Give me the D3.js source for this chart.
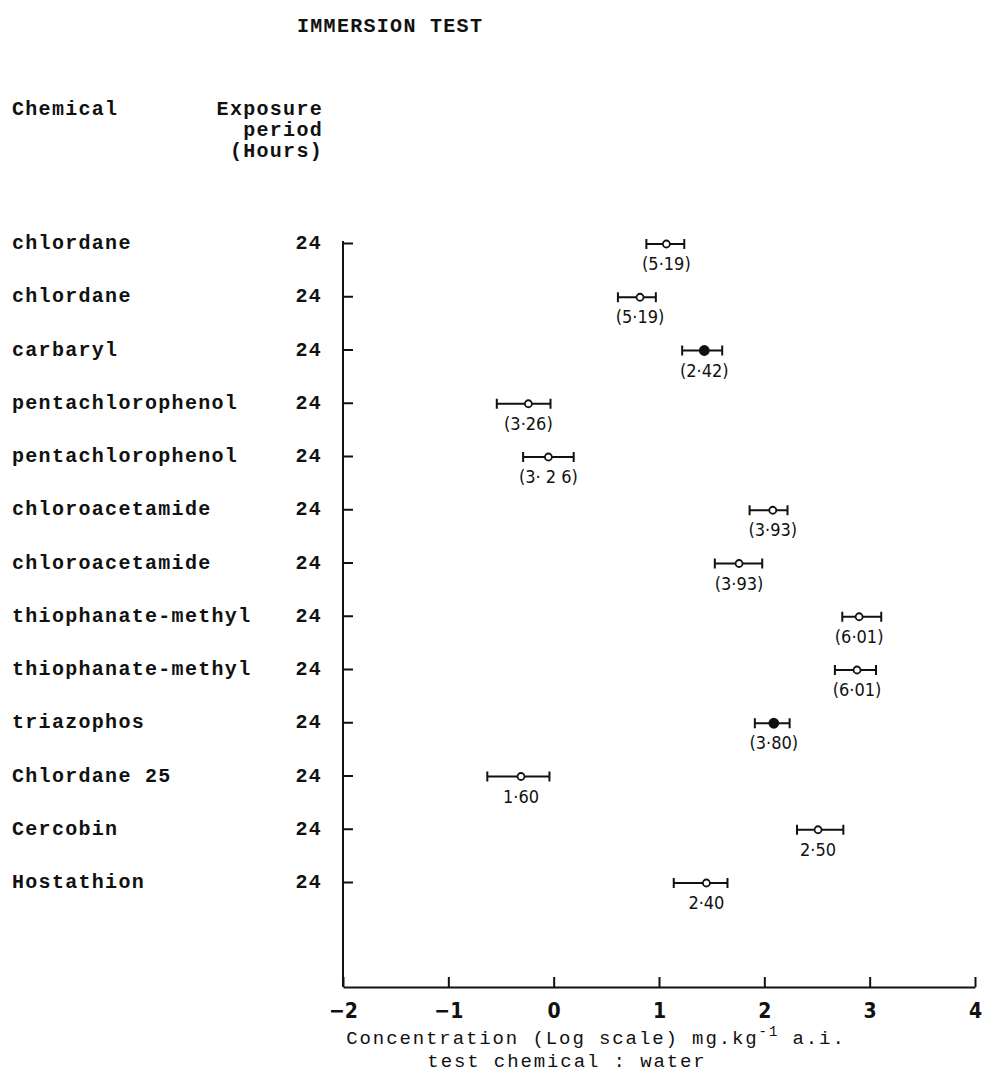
<!DOCTYPE html>
<html>
<head>
<meta charset="utf-8">
<script src="https://cdn.jsdelivr.net/npm/d3@7"></script>
<style>
  body { margin: 0; background: #fff; }
  svg { display: block; }
  .mono { font-family: "Liberation Mono", "DejaVu Sans Mono", monospace; letter-spacing: 1.3px; fill: #111; }
  .num { font-family: "DejaVu Sans Condensed", "DejaVu Sans", sans-serif; fill: #111; }
</style>
</head>
<body>
<svg id="chart" width="982" height="1078"></svg>
<script>
// Immersion test, exposure ranges on a log concentration scale
const chemicals = ['chlordane', 'chlordane', 'carbaryl', 'pentachlorophenol', 'pentachlorophenol',
  'chloroacetamide', 'chloroacetamide', 'thiophanate-methyl', 'thiophanate-methyl', 'triazophos',
  'Chlordane 25', 'Cercobin', 'Hostathion'];
const hours = [24, 24, 24, 24, 24, 24, 24, 24, 24, 24, 24, 24, 24];
const centers = [1.07, 0.82, 1.43, -0.24, -0.05, 2.08, 1.76, 2.90, 2.88, 2.09, -0.31, 2.51, 1.45];
const lows    = [0.88, 0.61, 1.22, -0.54, -0.29, 1.86, 1.53, 2.74, 2.67, 1.91, -0.63, 2.31, 1.14];
const highs   = [1.24, 0.97, 1.60, -0.03, 0.19, 2.22, 1.98, 3.11, 3.06, 2.24, -0.04, 2.75, 1.65];
const filled  = [false, false, true, false, false, false, false, false, false, true, false, false, false];
const ratioLabels = ['(5·19)', '(5·19)', '(2·42)', '(3·26)', '(3· 2 6)', '(3·93)', '(3·93)',
  '(6·01)', '(6·01)', '(3·80)', '1·60', '2·50', '2·40'];
const xTicks = [-2, -1, 0, 1, 2, 3, 4];

const svg = d3.select('#chart');

const x = d3.scaleLinear().domain([-2, 4]).range([343, 975]);
const y = d3.scalePoint().domain(d3.range(chemicals.length)).range([243, 882]);
const axisY = 987;
const rows = d3.range(chemicals.length);

// Headings
svg.append('text').attr('class', 'mono').attr('x', 297).attr('y', 32)
  .attr('font-size', 20).attr('font-weight', 'bold').text('IMMERSION TEST');
svg.append('text').attr('class', 'mono').attr('x', 12).attr('y', 115)
  .attr('font-size', 20).attr('font-weight', 'bold').text('Chemical');
['Exposure', 'period', '(Hours)'].forEach((t, i) => {
  svg.append('text').attr('class', 'mono').attr('x', 323).attr('y', 115 + i * 21)
    .attr('text-anchor', 'end').attr('font-size', 20).attr('font-weight', 'bold').text(t);
});

// Row labels
svg.append('g').selectAll('text').data(rows).join('text')
  .attr('class', 'mono').attr('x', 12).attr('y', d => y(d) + 6)
  .attr('font-size', 20).attr('font-weight', 'bold').text(d => chemicals[d]);
svg.append('g').selectAll('text').data(rows).join('text')
  .attr('class', 'mono').attr('x', 322).attr('y', d => y(d) + 6)
  .attr('text-anchor', 'end').attr('font-size', 20).attr('font-weight', 'bold').text(d => hours[d]);

// Vertical axis
const yAxis = svg.append('g').attr('transform', `translate(${x(-2)},0)`)
  .call(d3.axisRight(y).tickSize(10).tickSizeOuter(0).tickFormat(''));
yAxis.select('.domain').remove();
svg.append('line').attr('x1', x(-2)).attr('x2', x(-2)).attr('y1', y(0) - 2).attr('y2', axisY)
  .attr('stroke', '#111').attr('stroke-width', 2);
yAxis.selectAll('line').attr('stroke', '#111').attr('stroke-width', 2);

// Horizontal axis
const xAxis = svg.append('g').attr('transform', `translate(0,${axisY})`)
  .call(d3.axisBottom(x).tickValues(xTicks).tickSizeInner(-10).tickSizeOuter(0)
    .tickFormat(d => d < 0 ? '\u2212' + Math.abs(d) : d));
xAxis.select('.domain').attr('stroke', '#111').attr('stroke-width', 2);
xAxis.selectAll('line').attr('stroke', '#111').attr('stroke-width', 2);
xAxis.selectAll('text').attr('class', 'num').attr('y', 31).attr('dy', null)
  .attr('font-size', 21).attr('font-weight', 'bold');

// Axis title
const t1 = svg.append('text').attr('class', 'mono').attr('x', 596).attr('y', 1044)
  .attr('text-anchor', 'middle').attr('font-size', 19).style('letter-spacing', '1.9px');
t1.append('tspan').text('Concentration (Log scale) mg.kg');
t1.append('tspan').attr('dy', -8).attr('font-size', 14).text('-1');
t1.append('tspan').attr('dy', 8).text(' a.i.');
svg.append('text').attr('class', 'mono').attr('x', 567).attr('y', 1067)
  .attr('text-anchor', 'middle').attr('font-size', 19).style('letter-spacing', '1.9px')
  .text('test chemical : water');

// Ranges
const g = svg.append('g').attr('stroke', '#111').attr('stroke-width', 2);
g.selectAll('.bar').data(rows).join('line').attr('class', 'bar')
  .attr('x1', d => x(lows[d])).attr('x2', d => x(highs[d]))
  .attr('y1', d => y(d) + 1).attr('y2', d => y(d) + 1);
g.selectAll('.capL').data(rows).join('line').attr('class', 'capL')
  .attr('x1', d => x(lows[d])).attr('x2', d => x(lows[d]))
  .attr('y1', d => y(d) - 4).attr('y2', d => y(d) + 6);
g.selectAll('.capR').data(rows).join('line').attr('class', 'capR')
  .attr('x1', d => x(highs[d])).attr('x2', d => x(highs[d]))
  .attr('y1', d => y(d) - 4).attr('y2', d => y(d) + 6);
g.selectAll('circle').data(rows).join('circle')
  .attr('cx', d => x(centers[d])).attr('cy', d => y(d) + 1)
  .attr('r', d => filled[d] ? 4.5 : 3.5)
  .attr('fill', d => filled[d] ? '#111' : '#fff')
  .attr('stroke-width', 1.8);

svg.append('g').selectAll('text').data(rows).join('text')
  .attr('class', 'num').attr('x', d => x(centers[d])).attr('y', d => y(d) + 27)
  .attr('text-anchor', 'middle').attr('font-size', 18).text(d => ratioLabels[d]);
</script>
</body>
</html>
